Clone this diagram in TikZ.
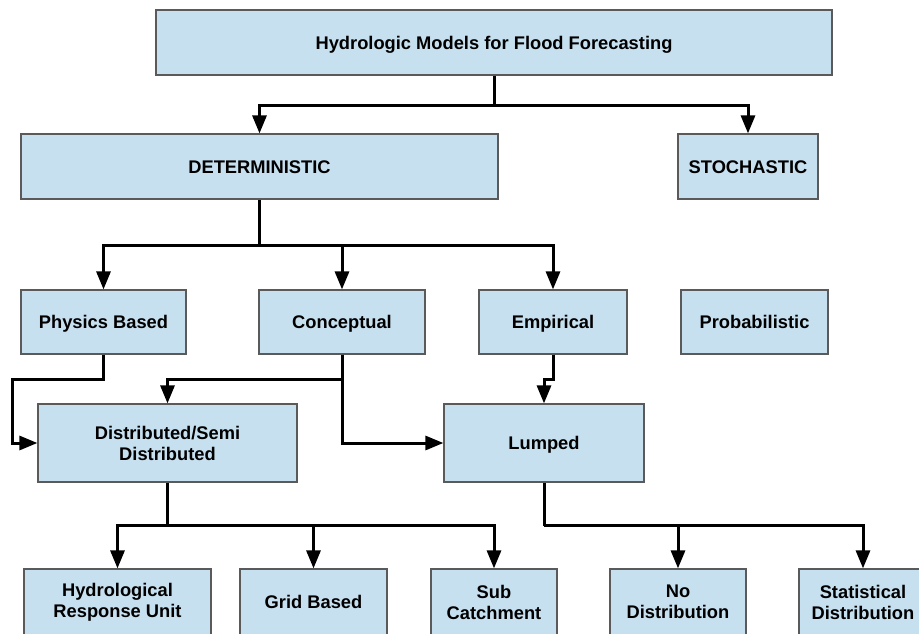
\documentclass[tikz,border=0pt]{standalone}
\usepackage{fontspec}
\setmainfont{Liberation Sans}
\usetikzlibrary{arrows.meta,calc}
\definecolor{boxfill}{RGB}{199,224,240}
\definecolor{boxedge}{RGB}{90,90,90}
\begin{document}
\begin{tikzpicture}[x=1pt,y=-1pt,
  box/.style={draw=boxedge, line width=1.2pt, fill=boxfill, rectangle,
    inner sep=0pt, align=center, text=black,
    font=\fontsize{18.3}{21}\selectfont\bfseries},
  oneline/.style={box, text height=13pt, text depth=0pt},
  conn/.style={line width=3pt, -{Triangle[length=18pt,width=14pt]}},
  link/.style={line width=3pt}]
\clip (0,0) rectangle (919,633);
\fill[white] (0,0) rectangle (919,633);

% level 0
\node[oneline, minimum width=676pt, minimum height=65pt] (top) at (494,42.5)
  {Hydrologic Models for Flood Forecasting};
% level 1
\node[oneline, minimum width=477pt, minimum height=65pt] (det) at (259.5,166.5) {DETERMINISTIC};
\node[oneline, minimum width=140pt, minimum height=65pt] (sto) at (748,166.5) {STOCHASTIC};
% level 2
\node[oneline, minimum width=165pt, minimum height=64pt] (phys) at (103.5,322) {Physics Based};
\node[oneline, minimum width=166pt, minimum height=64pt] (conc) at (342,322) {Conceptual};
\node[oneline, minimum width=148pt, minimum height=64pt] (emp)  at (553,322) {Empirical};
\node[oneline, minimum width=147pt, minimum height=64pt] (prob) at (754.5,322) {Probabilistic};
% level 3
\node[box, minimum width=259pt, minimum height=78pt] (dist) at (167.5,443) {Distributed/Semi\\Distributed};
\node[oneline, minimum width=200pt, minimum height=78pt] (lump) at (544,443) {Lumped};
% level 4
\node[box, minimum width=187pt, minimum height=66pt] (hru)  at (117.5,602) {Hydrological\\Response Unit};
\node[oneline, minimum width=147pt, minimum height=66pt] (grid) at (313.5,602) {Grid Based};
\node[box, minimum width=126pt, minimum height=66pt] (sub)  at (494,602) {Sub\\Catchment};
\node[box, minimum width=136pt, minimum height=66pt] (nod)  at (678,602) {No\\Distribution};
\node[box, minimum width=128pt, minimum height=66pt] (stat) at (863,602) {Statistical\\Distribution};

% junction points of the tree
\coordinate (j0) at ($(top.south)+(0,30)$);
\coordinate (j1) at ($(det.south)+(0,46)$);
\coordinate (j2) at ($(dist.south)+(0,43)$);
\coordinate (j3) at ($(lump.south)+(0,43)$);

\draw[link] (top.south) -- (j0);
\draw[conn] (j0) -| (det.north);
\draw[conn] (j0) -| (sto.north);

\draw[link] (det.south) -- (j1);
\draw[conn] (j1) -| (phys.north);
\draw[conn] (j1) -| (conc.north);
\draw[conn] (j1) -| (emp.north);

\draw[conn] (phys.south) -- ++(0,25) -| ($(dist.west)+(-25,0)$) -- (dist.west);
\draw[conn] (conc.south) -- ++(0,25) -| (dist.north);
\draw[conn] (conc.south) |- (lump.west);
\draw[conn] (emp.south) -- ++(0,25) -| (lump.north);

\draw[link] (dist.south) -- (j2);
\draw[conn] (j2) -| (hru.north);
\draw[conn] (j2) -| (grid.north);
\draw[conn] (j2) -| (sub.north);

\draw[link] (lump.south) -- (j3);
\draw[conn] (j3) -| (nod.north);
\draw[conn] (j3) -| (stat.north);
\end{tikzpicture}
\end{document}
